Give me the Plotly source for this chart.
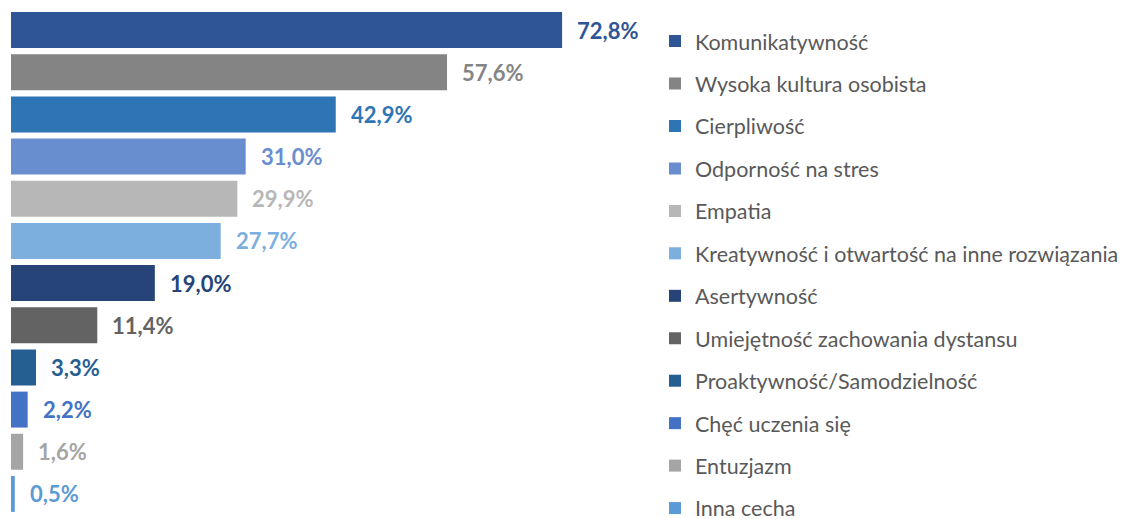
import plotly.graph_objects as go

categories = [
    "Komunikatywność",
    "Wysoka kultura osobista",
    "Cierpliwość",
    "Odporność na stres",
    "Empatia",
    "Kreatywność i otwartość na inne rozwiązania",
    "Asertywność",
    "Umiejętność zachowania dystansu",
    "Proaktywność/Samodzielność",
    "Chęć uczenia się",
    "Entuzjazm",
    "Inna cecha",
]
values = [72.8, 57.6, 42.9, 31.0, 29.9, 27.7, 19.0, 11.4, 3.3, 2.2, 1.6, 0.5]
colors = [
    "#2F5597", "#848484", "#2E75B6", "#698ED0", "#B7B7B7", "#7CAFDD",
    "#264478", "#636363", "#255E91", "#4472C4", "#A5A5A5", "#5B9BD5",
]

fig = go.Figure()
for i, (cat, val, col) in enumerate(zip(categories, values, colors)):
    fig.add_trace(go.Bar(
        x=[val], y=[cat], orientation="h", name=cat,
        marker=dict(color=col, line=dict(width=0)),
        legendgroup=f"g{i}", showlegend=True,
        hoverinfo="x+name",
    ))
    fig.add_annotation(
        x=val, y=cat, xref="x", yref="y",
        text=f"{val:.1f}%".replace(".", ","),
        showarrow=False, xanchor="left", xshift=13,
        font=dict(family="Lato", size=22, color=col, weight="bold"),
    )

W, H = 1129, 519
ml, mr, mt, mb = 3, 477, 1, 12
plot_w = W - ml - mr
px_per_unit = 7.57
xmax = plot_w / px_per_unit

fig.update_layout(
    width=W, height=H,
    margin=dict(l=ml, r=mr, t=mt, b=mb, autoexpand=False),
    paper_bgcolor="white", plot_bgcolor="white",
    bargap=0.147,
    separators=",.",
    xaxis=dict(range=[0, xmax], visible=False, fixedrange=True),
    yaxis=dict(categoryorder="array", categoryarray=categories,
               autorange="reversed", visible=False, fixedrange=True),
    legend=dict(
        x=0.9923, xanchor="left", y=0.977, yanchor="top",
        font=dict(family="Lato", size=21.5, color="#595959"),
        tracegroupgap=11.5, maxheight=2000,
        bgcolor="rgba(0,0,0,0)",
    ),
    showlegend=True,
)

fig.write_html("out.html")
